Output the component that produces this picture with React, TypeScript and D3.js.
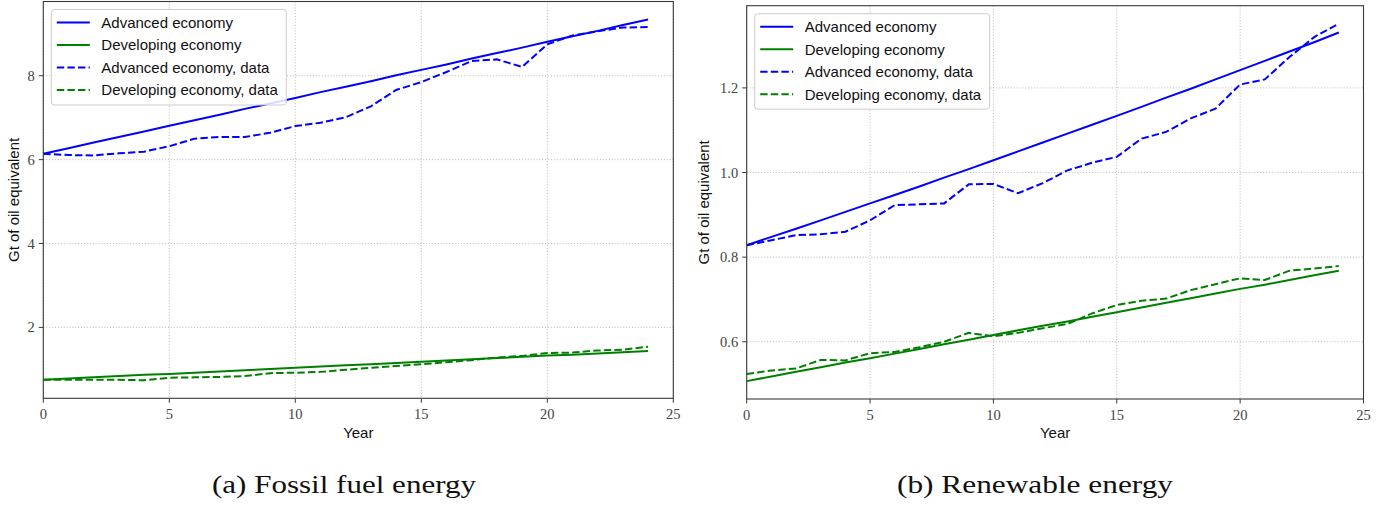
import React from "react";
import * as d3 from "d3";

// Years since start
const years: number[] = d3.range(0, 25);

// Fossil fuel energy (Gt of oil equivalent)
const fossilAdvModel: number[] = [
  6.14, 6.27, 6.41, 6.54, 6.67, 6.81, 6.94, 7.07, 7.21, 7.34, 7.47, 7.61, 7.74,
  7.87, 8.01, 8.14, 8.27, 8.41, 8.54, 8.67, 8.81, 8.94, 9.07, 9.21, 9.34,
];
const fossilDevModel: number[] = [
  0.75, 0.78, 0.81, 0.84, 0.87, 0.89, 0.92, 0.95, 0.98, 1.01, 1.04, 1.07, 1.10,
  1.12, 1.15, 1.18, 1.21, 1.24, 1.27, 1.30, 1.33, 1.35, 1.38, 1.41, 1.44,
];
const fossilAdvData: number[] = [
  6.14, 6.11, 6.10, 6.15, 6.19, 6.32, 6.50, 6.54, 6.54, 6.64, 6.80, 6.88, 7.01,
  7.27, 7.66, 7.85, 8.09, 8.35, 8.39, 8.21, 8.75, 8.96, 9.06, 9.15, 9.16,
];
const fossilDevData: number[] = [
  0.75, 0.75, 0.75, 0.75, 0.74, 0.80, 0.81, 0.82, 0.84, 0.91, 0.92, 0.94, 0.99,
  1.04, 1.08, 1.12, 1.17, 1.22, 1.28, 1.32, 1.39, 1.40, 1.45, 1.47, 1.54,
];

// Renewable energy (Gt of oil equivalent)
const renewAdvModel: number[] = [
  0.828, 0.848, 0.867, 0.887, 0.907, 0.927, 0.947, 0.967, 0.988, 1.008, 1.029,
  1.050, 1.071, 1.092, 1.113, 1.134, 1.155, 1.177, 1.198, 1.220, 1.242, 1.264,
  1.286, 1.308, 1.331,
];
const renewDevModel: number[] = [
  0.507, 0.518, 0.529, 0.540, 0.551, 0.561, 0.572, 0.583, 0.594, 0.605, 0.616,
  0.627, 0.638, 0.648, 0.659, 0.670, 0.681, 0.692, 0.703, 0.714, 0.725, 0.735,
  0.746, 0.757, 0.768,
];
const renewAdvData: number[] = [
  0.828, 0.840, 0.852, 0.854, 0.860, 0.887, 0.923, 0.925, 0.927, 0.972, 0.973,
  0.951, 0.975, 1.005, 1.023, 1.037, 1.080, 1.096, 1.128, 1.151, 1.208, 1.220,
  1.273, 1.320, 1.352,
];
const renewDevData: number[] = [
  0.524, 0.532, 0.537, 0.557, 0.556, 0.573, 0.576, 0.587, 0.600, 0.621, 0.613,
  0.621, 0.632, 0.642, 0.667, 0.687, 0.697, 0.702, 0.722, 0.736, 0.750, 0.746,
  0.768, 0.773, 0.779,
];

const xTicks: number[] = [0, 5, 10, 15, 20, 25];
const fossilYTicks: number[] = [2, 4, 6, 8];
const renewYTicks: number[] = [0.6, 0.8, 1.0, 1.2];

const legendLabels: string[] = [
  "Advanced economy",
  "Developing economy",
  "Advanced economy, data",
  "Developing economy, data",
];

const BLUE = "#0000ff";
const GREEN = "#008000";
const DASH = "7.4,3.2";
const SANS = "'Liberation Sans', Arial, Helvetica, sans-serif";
const SERIF = "'Liberation Serif', 'Times New Roman', serif";

type Series = { values: number[]; color: string; dashed: boolean };

type PanelProps = {
  left: number;
  right: number;
  top: number;
  bottom: number;
  series: Series[];
  yTicks: number[];
  yFormat: (v: number) => string;
  yLabelX: number;
  caption: string;
  captionX: number;
  captionWidth: number;
};

function Panel(p: PanelProps) {
  const all = p.series.flatMap((s) => s.values);
  const lo = d3.min(all) as number;
  const hi = d3.max(all) as number;
  const pad = (hi - lo) * 0.05;
  const x = d3.scaleLinear().domain([0, 25]).range([p.left, p.right]);
  const y = d3.scaleLinear().domain([lo - pad, hi + pad]).range([p.bottom, p.top]);
  const line = d3
    .line<number>()
    .x((_, i) => x(years[i]))
    .y((v) => y(v));

  const lgX = p.left + 8;
  const lgY = p.top + 8;
  const rowY = [13, 35.5, 58, 80.5];

  return (
    <g>
      {/* grid */}
      {xTicks.map((t) => (
        <line key={"gx" + t} x1={x(t)} x2={x(t)} y1={p.top} y2={p.bottom}
          stroke="#b0b0b0" strokeWidth={0.8} strokeDasharray="1.1,1.8" />
      ))}
      {p.yTicks.map((t) => (
        <line key={"gy" + t} x1={p.left} x2={p.right} y1={y(t)} y2={y(t)}
          stroke="#b0b0b0" strokeWidth={0.8} strokeDasharray="1.1,1.8" />
      ))}

      {/* series */}
      {p.series.map((s, i) => (
        <path key={"s" + i} d={line(s.values) || ""} fill="none" stroke={s.color}
          strokeWidth={2} strokeDasharray={s.dashed ? DASH : undefined} />
      ))}

      {/* frame */}
      <rect x={p.left} y={p.top} width={p.right - p.left} height={p.bottom - p.top}
        fill="none" stroke="#3a3a3a" strokeWidth={1.1} />

      {/* x axis ticks */}
      {xTicks.map((t) => (
        <g key={"tx" + t}>
          <line x1={x(t)} x2={x(t)} y1={p.bottom} y2={p.bottom + 4.5} stroke="#3a3a3a" strokeWidth={1} />
          <text x={x(t)} y={p.bottom + 21} textAnchor="middle" fontFamily={SERIF}
            fontSize={14.5} fill="#444">{t}</text>
        </g>
      ))}
      {/* y axis ticks */}
      {p.yTicks.map((t) => (
        <g key={"ty" + t}>
          <line x1={p.left - 4.5} x2={p.left} y1={y(t)} y2={y(t)} stroke="#3a3a3a" strokeWidth={1} />
          <text x={p.left - 8.5} y={y(t) + 5} textAnchor="end" fontFamily={SERIF}
            fontSize={14.5} fill="#444">{p.yFormat(t)}</text>
        </g>
      ))}

      {/* axis titles */}
      <text x={(p.left + p.right) / 2} y={438} textAnchor="middle" fontFamily={SANS}
        fontSize={15} fill="#111">Year</text>
      <text transform={`translate(${p.yLabelX},${(p.top + p.bottom) / 2}) rotate(-90)`}
        textAnchor="middle" dy="0.35em" fontFamily={SANS} fontSize={15} fill="#111">
        Gt of oil equivalent
      </text>

      {/* legend */}
      <rect x={lgX} y={lgY} width={235} height={95.5} rx={3} fill="#ffffff"
        fillOpacity={0.85} stroke="#cccccc" strokeWidth={1} />
      {legendLabels.map((lab, i) => {
        const s = p.series[i];
        const yy = lgY + rowY[i];
        return (
          <g key={"lg" + i}>
            <line x1={lgX + 5.5} x2={lgX + 38.5} y1={yy} y2={yy} stroke={s.color}
              strokeWidth={2} strokeDasharray={s.dashed ? DASH : undefined} />
            <text x={lgX + 50} y={yy + 5.3} fontFamily={SANS} fontSize={15} fill="#111">{lab}</text>
          </g>
        );
      })}

      {/* caption */}
      <text x={p.captionX - p.captionWidth / 2} y={492.5} fontFamily={SERIF} fontSize={26}
        fill="#111" textLength={p.captionWidth} lengthAdjust="spacingAndGlyphs">
        {p.caption}
      </text>
    </g>
  );
}

export default function App() {
  return (
    <svg width={1396} height={506} style={{ position: "absolute", left: 0, top: 0, background: "#fff" }}>
      <Panel
        left={43.3}
        right={673.3}
        top={1.5}
        bottom={398.3}
        series={[
          { values: fossilAdvModel, color: BLUE, dashed: false },
          { values: fossilDevModel, color: GREEN, dashed: false },
          { values: fossilAdvData, color: BLUE, dashed: true },
          { values: fossilDevData, color: GREEN, dashed: true },
        ]}
        yTicks={fossilYTicks}
        yFormat={(v) => d3.format("d")(v)}
        yLabelX={14}
        caption="(a) Fossil fuel energy"
        captionX={344}
        captionWidth={264}
      />
      <Panel
        left={746.7}
        right={1363.5}
        top={5.7}
        bottom={399}
        series={[
          { values: renewAdvModel, color: BLUE, dashed: false },
          { values: renewDevModel, color: GREEN, dashed: false },
          { values: renewAdvData, color: BLUE, dashed: true },
          { values: renewDevData, color: GREEN, dashed: true },
        ]}
        yTicks={renewYTicks}
        yFormat={(v) => d3.format(".1f")(v)}
        yLabelX={704}
        caption="(b) Renewable energy"
        captionX={1035}
        captionWidth={276}
      />
    </svg>
  );
}
